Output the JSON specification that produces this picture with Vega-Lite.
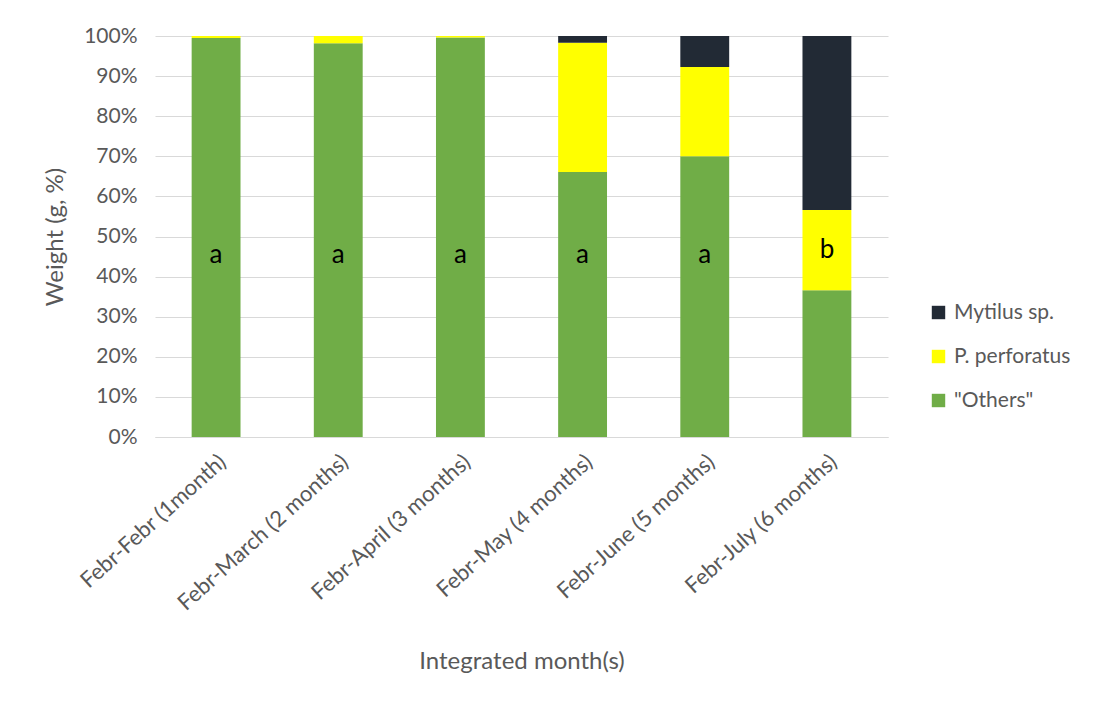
{
  "$schema": "https://vega.github.io/schema/vega-lite/v6.json",
  "autosize": "none",
  "width": 733,
  "height": 401,
  "padding": {"left": 155, "top": 36, "right": 205, "bottom": 266},
  "background": "white",
  "config": {
    "font": "Lato",
    "view": {"stroke": null}
  },
  "data": {
    "values": [
      {"period": "Febr-Febr (1month)", "group": "\"Others\"", "rank": 1, "weight": 99.5},
      {"period": "Febr-Febr (1month)", "group": "P. perforatus", "rank": 2, "weight": 0.5},
      {"period": "Febr-Febr (1month)", "group": "Mytilus sp.", "rank": 3, "weight": 0},
      {"period": "Febr-March (2 months)", "group": "\"Others\"", "rank": 1, "weight": 98.2},
      {"period": "Febr-March (2 months)", "group": "P. perforatus", "rank": 2, "weight": 1.8},
      {"period": "Febr-March (2 months)", "group": "Mytilus sp.", "rank": 3, "weight": 0},
      {"period": "Febr-April (3 months)", "group": "\"Others\"", "rank": 1, "weight": 99.6},
      {"period": "Febr-April (3 months)", "group": "P. perforatus", "rank": 2, "weight": 0.4},
      {"period": "Febr-April (3 months)", "group": "Mytilus sp.", "rank": 3, "weight": 0},
      {"period": "Febr-May (4 months)", "group": "\"Others\"", "rank": 1, "weight": 66.1},
      {"period": "Febr-May (4 months)", "group": "P. perforatus", "rank": 2, "weight": 32.2},
      {"period": "Febr-May (4 months)", "group": "Mytilus sp.", "rank": 3, "weight": 1.7},
      {"period": "Febr-June (5 months)", "group": "\"Others\"", "rank": 1, "weight": 70.0},
      {"period": "Febr-June (5 months)", "group": "P. perforatus", "rank": 2, "weight": 22.3},
      {"period": "Febr-June (5 months)", "group": "Mytilus sp.", "rank": 3, "weight": 7.7},
      {"period": "Febr-July (6 months)", "group": "\"Others\"", "rank": 1, "weight": 36.6},
      {"period": "Febr-July (6 months)", "group": "P. perforatus", "rank": 2, "weight": 20.0},
      {"period": "Febr-July (6 months)", "group": "Mytilus sp.", "rank": 3, "weight": 43.4}
    ]
  },
  "encoding": {
    "x": {
      "field": "period",
      "type": "nominal",
      "sort": null,
      "scale": {"paddingInner": 0.6, "paddingOuter": 0.3},
      "axis": {
        "title": "Integrated month(s)",
        "titleFont": "Lato",
        "titleFontSize": 24,
        "titleFontWeight": "normal",
        "titleColor": "#595959",
        "titlePadding": 36,
        "labelAngle": -42,
        "labelFontSize": 22,
        "labelColor": "#595959",
        "labelPadding": 14,
        "labelLimit": 400,
        "ticks": false,
        "domainColor": "#D9D9D9",
        "domainWidth": 1
      }
    }
  },
  "layer": [
    {
      "mark": {"type": "bar"},
      "encoding": {
        "y": {
          "field": "weight",
          "type": "quantitative",
          "stack": "normalize",
          "scale": {"domain": [0, 1]},
          "axis": {
            "title": "Weight (g, %)",
            "titleFontSize": 24,
            "titleFontWeight": "normal",
            "titleColor": "#595959",
            "titlePadding": 16,
            "format": ".0%",
            "values": [0, 0.1, 0.2, 0.3, 0.4, 0.5, 0.6, 0.7, 0.8, 0.9, 1],
            "labelOverlap": false,
            "labelFontSize": 21,
            "labelColor": "#595959",
            "labelPadding": 18,
            "ticks": false,
            "domain": false,
            "gridColor": "#D9D9D9",
            "gridWidth": 1
          }
        },
        "color": {
          "field": "group",
          "type": "nominal",
          "scale": {
            "domain": ["Mytilus sp.", "P. perforatus", "\"Others\""],
            "range": ["#222A35", "#FFFF00", "#70AD47"]
          },
          "legend": {
            "title": null,
            "orient": "none",
            "legendX": 773,
            "legendY": 266,
            "symbolType": "square",
            "symbolSize": 180,
            "symbolStrokeWidth": 0,
            "labelFontSize": 21,
            "labelColor": "#595959",
            "labelOffset": 5,
            "rowPadding": 22
          }
        },
        "order": {"field": "rank", "type": "quantitative"}
      }
    },
    {
      "data": {
        "values": [
          {"period": "Febr-Febr (1month)", "letter": "a", "pos": 0.454},
          {"period": "Febr-March (2 months)", "letter": "a", "pos": 0.454},
          {"period": "Febr-April (3 months)", "letter": "a", "pos": 0.454},
          {"period": "Febr-May (4 months)", "letter": "a", "pos": 0.454},
          {"period": "Febr-June (5 months)", "letter": "a", "pos": 0.454},
          {"period": "Febr-July (6 months)", "letter": "b", "pos": 0.466}
        ]
      },
      "mark": {"type": "text", "fontSize": 26, "color": "#000000", "baseline": "middle"},
      "encoding": {
        "y": {"field": "pos", "type": "quantitative"},
        "text": {"field": "letter"}
      }
    }
  ]
}
